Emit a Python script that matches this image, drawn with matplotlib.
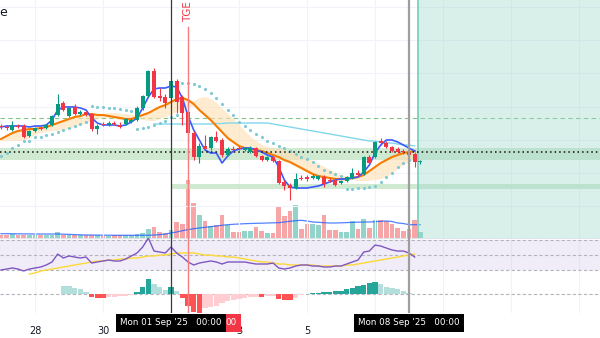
import numpy as np
import matplotlib.pyplot as plt
from matplotlib.patches import Rectangle

# 4h candles, index 0 = Mon 01 Sep '25 00:00
t = np.arange(-30, 45)
opens = [124, 123, 120, 124, 124, 114, 119, 122, 122, 125, 135, 147, 134, 143, 136, 138, 136, 121, 126, 125,
         127, 125, 126, 128, 130, 142, 154, 179, 154, 153, 152, 169, 153, 138, 117, 93, 104, 102, 113, 110,
         95, 101, 102, 100, 98, 102, 94, 90, 93, 89, 68, 65, 62, 72, 73, 72, 71, 73, 70, 70,
         67, 69, 72, 77, 76, 93, 93, 109, 107, 103, 101, 99, 98, 96, 88]
closes = [123, 122, 125, 123, 113, 119, 122, 121.5, 125, 134, 146, 140, 142, 136, 138, 135, 121, 124, 125.5, 127,
          126.5, 123, 131, 130, 142, 154, 179, 153, 152, 147, 169, 148, 137, 117, 93, 104, 101, 113, 109, 95,
          101, 100, 101.5, 102, 102, 94, 90, 93, 89, 67, 64, 62, 71, 71.5, 71, 74, 74, 66, 69.5, 65,
          69, 73, 77, 75, 93, 87, 108, 107, 103, 99, 98, 98, 95, 88, 88]
highs = [126, 125, 129, 126, 126, 120, 123, 124, 126, 135, 156, 149, 144, 146, 140, 139, 137, 126, 128, 129,
         129, 128, 132, 132, 144, 155, 180, 182, 162, 156, 170, 171, 155, 140, 119, 107, 115, 114, 119, 112,
         103, 104, 104, 103, 104, 103, 95, 94, 94, 90, 70, 67, 77, 75, 75, 76, 75, 75, 72, 72,
         70, 74, 82, 80, 94, 95, 109, 112, 109, 104, 103, 101, 100, 98, 90]
lows = [121, 120, 119, 122, 112, 113, 118, 120, 121, 124, 134, 139, 133, 135, 135, 134, 119, 116, 124, 124,
        125, 122, 125, 127, 129, 140, 153, 152, 149, 142, 151, 137, 125, 107, 90, 87, 100, 100, 108, 93,
        94, 98, 100, 99, 97, 93, 89, 89, 88, 66, 60, 50, 61, 70, 69, 71, 70, 63, 68, 64,
        66, 68, 71, 74, 75, 86, 92, 105, 102, 98, 97, 96, 94, 83, 86]
volume = [30, 30, 40, 30, 30, 30, 30, 30, 30, 30, 60, 30, 30, 30, 30, 30, 30, 30, 20, 20,
          30, 30, 30, 30, 40, 50, 90, 110, 60, 50, 80, 160, 140, 580, 350, 230, 170, 120, 130, 230,
          130, 60, 60, 70, 70, 110, 70, 50, 50, 320, 220, 270, 330, 90, 140, 140, 130, 230, 80, 80,
          60, 60, 170, 90, 190, 100, 180, 180, 170, 140, 100, 70, 90, 180, 60]
vol_ma = [43, 43, 42, 42, 41, 41, 40, 40, 40, 40, 40, 38, 36, 34, 32, 30, 30, 29, 28, 28,
          27, 27, 27, 27, 27, 27, 28, 30, 33, 40, 50, 60, 73, 83, 93, 100, 107, 113, 120, 127,
          133, 137, 140, 143, 145, 147, 148, 150, 152, 153, 160, 167, 173, 177, 170, 160, 157, 153, 150, 150,
          152, 154, 156, 158, 160, 160, 163, 167, 170, 165, 150, 145, 133, 133, 133]

# indicators, t = -30 .. 43
t_ind = np.arange(-30, 44)
ema_fast = [123, 124, 124, 124, 124, 123, 124, 124, 125, 130, 140, 143, 143, 143, 142, 140, 132, 127, 125, 125,
            125, 124, 125, 128, 132, 142, 153, 161, 162, 162, 164, 163, 152, 134, 120, 110, 100, 97, 97, 87,
            94, 99, 101, 102, 102, 100, 98, 95, 93, 83, 70, 63, 62, 62, 62, 63, 64, 66, 68, 70,
            71, 71, 72, 73, 78, 85, 97, 105, 110, 110, 108, 105, 102, 99]
ema_slow = [111, 114, 117, 119, 120, 121, 121, 122, 123, 125, 127, 129, 131, 133, 134, 136, 136, 135, 135, 134,
            133, 132, 131, 131, 133, 135, 137, 140, 143, 145, 148, 151, 152, 150, 146, 140, 135, 130, 124, 118,
            112, 108, 104, 102, 101, 100, 99, 97, 95, 93, 90, 88, 85, 82, 79, 76, 74, 73, 72, 71,
            71, 71, 72, 73, 75, 79, 83, 87, 90, 93, 95, 97, 98, 99]
psar = [94, 97, 102, 105, 109, 109, 113, 113, 115, 116, 118, 120, 122, 124, 126, 128,
        144, 143, 143, 142, 142, 141, 140, 139,
        121, 122, 123, 125, 127, 129, 133, 135,
        167, 167, 166, 164, 161, 157, 152, 146, 140, 135, 128, 124, 120, 116, 113, 109, 107, 104, 102, 99,
        96, 93, 91, 88, 84, 80, 78, 76, 74,
        61, 61, 62, 62, 63, 64, 68, 73, 77, 83, 87, 90, 93]
t_ma200 = np.arange(-3, 44)
ma200 = [126, 126, 126, 126, 126, 126, 126, 126, 126, 126, 126, 126.5, 126.5, 127, 127, 127, 127, 127, 127, 127,
         127, 126, 125, 124, 123, 122, 121, 120, 119, 118, 117, 116, 115, 114, 113, 112, 111, 110, 109, 109,
         108, 107, 107, 106, 105, 105, 104]
rsi = [30, 31.3, 32.7, 31.3, 28.7, 31.3, 32.7, 34, 36.7, 40.7,
       51.3, 46, 48.7, 47.3, 46, 47.3, 39.3, 40.7, 42, 43.3,
       42, 42, 44.7, 48.7, 52.7, 60.7, 72.7, 55.3, 54, 52.7,
       60.7, 52.7, 47.3, 40.7, 36.7, 39.3, 40.7, 42, 40.7, 38,
       40.7, 40.7, 40.7, 40.7, 39.3, 38, 38, 38, 39.3, 32.7,
       31.3, 32.7, 35.3, 36.7, 36.7, 35.3, 35.3, 34, 34, 35.3,
       35.3, 38, 40.7, 43.3, 54, 55.3, 63.3, 62, 59.3, 56.7,
       55.3, 55.3, 52.7, 47.3]
t_rsi_ma = np.arange(-25, 44)
rsi_ma = [24.7, 26, 28.7, 30, 31.3, 32.7, 34, 35.3, 36.7, 38,
          39.3, 40.7, 42, 42, 43.3, 43.3, 44.7, 44.7, 46, 46,
          47.3, 48.7, 48.7, 50, 50, 51.3, 52.7, 52.7, 52.7, 52.7,
          51.3, 50, 50, 48.7, 48.7, 47.3, 47.3, 46, 44.7, 43.3,
          42, 40.7, 40.7, 39.3, 38, 38, 36.7, 36.7, 36.7, 36.7,
          36.7, 35.3, 35.3, 35.3, 35.3, 35.3, 36.7, 36.7, 38, 39.3,
          40.7, 42, 43.3, 44.7, 46, 47.3, 48.7, 50, 51.3]
t_macd = np.arange(-19, 44)
macd_hist = [8.3, 8.3, 6, 5, 2, -3, -3.3, -3.4, -2.3, -2.3, -1.7, -1.7, -0.7, 2.7, 7,
             15.3, 10, 7, 4.3, 7, 3.3, -3.3, -11.3, -18, -18.5, -14, -13, -11.3, -9, -6.7,
             -5.7, -4.3, -3.3, -2.7, -2.3, -3, -2, -1.7, -4.7, -5.7, -5.8, -4, -1, 0.5, 1,
             1.7, 2, 2.3, 3, 3.7, 5, 6, 8.3, 9, 11.7, 11.8, 10, 7.7, 6, 5, 3.3, 1.7, 0.3]

tick_pos = [-24, -12, 12, 24]
tick_labels = ['28', '30', '3', '5']
tge_t = 3
cross_t = 0
last_t = 42
target_level = 132
entry_level = 98
zone_hi, zone_lo = 102, 90
zone2_hi, zone2_lo = 66, 61
box_start = 43.6

UP, DOWN = '#089981', '#f23645'
XLIM = (-30.18, 75.7)

fig = plt.figure(figsize=(6, 3.38), dpi=100)
fig.patch.set_facecolor('white')


def px_axes(top, bottom):
    return fig.add_axes([0, 1 - bottom / 338, 1, (bottom - top) / 338])


ax = px_axes(0, 238)
vax = ax.twinx()
rax = px_axes(238, 276)
max_ = px_axes(276, 313)

for a in (ax, vax, rax, max_):
    a.set_xlim(*XLIM)
    for s in a.spines.values():
        s.set_visible(False)
    a.tick_params(left=False, right=False, bottom=False, top=False,
                  labelleft=False, labelright=False, labelbottom=False)

ax.set_ylim(12, 250)
vax.set_ylim(0, 2380)
ax.set_zorder(vax.get_zorder() + 1)
ax.patch.set_visible(False)
rax.set_ylim(22, 72.7)
max_.set_ylim(-18.7, 18.3)

# grid
for g in [243, 210, 177, 143, 110, 77, 44]:
    ax.axhline(g, color='#f0f3fa', lw=0.8, zorder=0)
for a in (ax, rax, max_):
    for gx in [-24, -12, 0, 12, 24, 36, 48, 60, 72]:
        a.axvline(gx, color='#f0f3fa', lw=0.8, zorder=0)

# volume
vcols = ['#92d3ca' if c >= o else '#f7a6a8' for o, c in zip(opens, closes)]
vax.bar(t, volume, width=0.8, color=vcols, zorder=1)
vax.plot(t, vol_ma, color='#2962ff', lw=0.9, alpha=0.8, zorder=2)

# zones and levels
ax.axhspan(zone_lo, zone_hi, color='#c8e6c9', alpha=0.85, lw=0, zorder=1)
ax.fill_between([0, XLIM[1]], zone2_lo, zone2_hi, color='#c8e6c9', alpha=0.85, lw=0, zorder=1)
ax.axhline(target_level, color='#81c784', lw=0.8, ls=(0, (4, 3)), zorder=2)
ax.axhline(entry_level, color='#111111', lw=1.1, ls=(0, (1, 2)), zorder=6)

# ribbon band around slow ema
es = np.array(ema_slow, dtype=float)
lag = np.concatenate([np.full(4, es[0]), es[:-4]])
ax.fill_between(t_ind, np.minimum(es, lag) - 1.5, np.maximum(es, lag) + 1.5,
                color='#ffe0b2', alpha=0.6, lw=0, zorder=2)

ax.plot(t_ma200, ma200, color='#80d8ea', lw=1.0, zorder=3)
ax.plot(t_ind, ema_slow, color='#f57c00', lw=1.5, zorder=4)
ax.plot(t_ind, ema_fast, color='#3d5afe', lw=1.2, zorder=4)
ax.scatter(t_ind, psar, s=5, color='#7ec9d3', lw=0, zorder=5)

# candles
for ti, o, c, h, l in zip(t, opens, closes, highs, lows):
    col = UP if c >= o else DOWN
    ax.vlines(ti, l, h, color=col, lw=0.8, zorder=7)
    lo_b = min(o, c)
    hb = max(abs(c - o), 0.8)
    ax.add_patch(Rectangle((ti - 0.36, lo_b), 0.72, hb, color=col, lw=0, zorder=8))

# position box
ax.add_patch(Rectangle((box_start, 12), XLIM[1] - box_start, 238, color='#9fd9cc',
                       alpha=0.4, lw=0, zorder=3))
ax.axvline(box_start, color='#80cfc0', lw=1.3, zorder=3)

# RSI pane
rax.axhspan(30, 70, color='#7e57c2', alpha=0.1, lw=0, zorder=0)
for lv in (70, 50, 30):
    rax.axhline(lv, color='#b2b5be', lw=0.8, ls=(0, (3, 2)), zorder=1)
rax.plot(t_ind, rsi, color='#7e57c2', lw=1.0, zorder=3)
rax.plot(t_rsi_ma, rsi_ma, color='#fdd835', lw=1.0, zorder=2)
rax.axhline(72.6, color='#e0e3eb', lw=0.8)
rax.axhline(22.1, color='#e0e3eb', lw=0.8)

# MACD histogram
hist = np.array(macd_hist)
mcols = []
prev = None
for v in hist:
    if v >= 0:
        mcols.append('#26a69a' if prev is not None and v > prev else '#b2dfdb')
    else:
        mcols.append('#ff5252' if prev is not None and v < prev else '#ffcdd2')
    prev = v
max_.bar(t_macd, hist, width=0.95, color=mcols, zorder=2)
max_.axhline(0, color='#b2b5be', lw=0.8, ls=(0, (3, 2)), zorder=1)

# vertical markers
ax.plot([tge_t, tge_t], [12, 223], color='#f77c80', lw=1.0, zorder=9)
ax.text(tge_t, 238, 'TGE', rotation=90, color='#f23645', fontsize=7.5,
        ha='center', va='center', zorder=10)
for a in (rax, max_):
    a.axvline(tge_t, color='#f77c80', lw=1.0, zorder=9)
for a in (ax, rax, max_):
    a.axvline(cross_t, color='#3a3a3a', lw=0.9, zorder=9)
    a.axvline(last_t, color='#9e9e9e', lw=1.6, zorder=9)

# time axis
max_.set_xticks(tick_pos)
max_.set_xticklabels(tick_labels)
max_.tick_params(labelbottom=True, labelsize=7, labelcolor='#131722', pad=5.5)
trans = max_.get_xaxis_transform()
box = dict(boxstyle='square,pad=0.5', ec='none')
# TGE time label, mostly hidden behind the crosshair label
max_.text(tge_t + 8.6, -0.27, "00", transform=trans, ha='right', va='center',
          fontsize=6.3, color='white', zorder=20, clip_on=False,
          bbox=dict(box, fc='#f23645'))
max_.text(cross_t, -0.27, "Mon 01 Sep '25   00:00", transform=trans, ha='center', va='center',
          fontsize=6.3, color='white', zorder=21, clip_on=False,
          bbox=dict(box, fc='black'))
max_.text(last_t, -0.27, "Mon 08 Sep '25   00:00", transform=trans, ha='center', va='center',
          fontsize=6.3, color='white', zorder=21, clip_on=False,
          bbox=dict(box, fc='black'))

fig.text(-0.002, 1 - 12 / 338, 'e', fontsize=9, color='#131722', ha='left', va='center')

fig.savefig('out.png', dpi=100, facecolor='white')
